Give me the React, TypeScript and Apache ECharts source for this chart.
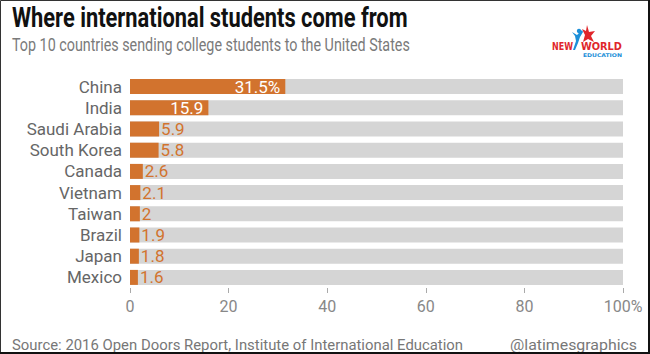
import React, { useEffect, useRef } from "react";
import * as echarts from "echarts";

const countries = ["China", "India", "Saudi Arabia", "South Korea", "Canada", "Vietnam", "Taiwan", "Brazil", "Japan", "Mexico"];
const shares = [31.5, 15.9, 5.9, 5.8, 2.6, 2.1, 2, 1.9, 1.8, 1.6];
const insideLabelCount = 2;
const tickValues = [0, 20, 40, 60, 80, 100];

const titleText = "Where international students come from";
const subtitleText = "Top 10 countries sending college students to the United States";
const sourceText = "Source: 2016 Open Doors Report, Institute of International Education";
const creditText = "@latimesgraphics";

const ORANGE = "#d2732e";
const BODY = "Roboto, 'Liberation Sans', sans-serif";

function measure(text: string, font: string): number {
  const c = document.createElement("canvas");
  const ctx = c.getContext("2d")!;
  ctx.font = font;
  return ctx.measureText(text).width || 1;
}

function fitted(text: string, font: string, x: number, y: number, width: number, fill: string, align = "left") {
  const s = width / measure(text, font);
  return {
    type: "text",
    x,
    y,
    scaleX: s,
    style: { text, font, fill, align, verticalAlign: "middle" },
  };
}

export default function App() {
  const ref = useRef<HTMLDivElement>(null);
  useEffect(() => {
    document.body.style.margin = "0";
    const chart = echarts.init(ref.current!, null, { renderer: "svg" });
    const data = shares.map((v, i) => ({
      value: v,
      label:
        i < insideLabelCount
          ? { position: "insideRight", color: "#ffffff", distance: 5 }
          : { position: "right", color: ORANGE, distance: 2 },
    }));
    const titleFont = `bold 27px Roboto, 'Liberation Sans', sans-serif`;
    const subFont = `18px Roboto, 'Liberation Sans', sans-serif`;
    const footFont = `15px Roboto, 'Liberation Sans', sans-serif`;
    const logoFont = `bold 11px 'DejaVu Sans Condensed', Roboto, sans-serif`;
    const eduFont = `bold 5px 'DejaVu Sans Condensed', Roboto, sans-serif`;
    chart.setOption({
      animation: false,
      backgroundColor: "#ffffff",
      grid: { left: 130, right: 27, top: 76, bottom: 66, containLabel: false },
      xAxis: {
        type: "value",
        min: 0,
        max: 100,
        interval: 20,
        axisLine: { show: false },
        axisTick: { show: true, length: 5, lineStyle: { color: "#aaaaaa", width: 1 } },
        splitLine: { show: false },
        axisLabel: {
          color: "#888888",
          fontSize: 16,
          fontFamily: BODY,
          margin: 10,
          formatter: (v: number) => (v === tickValues[tickValues.length - 1] ? v + "%" : String(v)),
        },
      },
      yAxis: {
        type: "category",
        data: countries,
        inverse: true,
        axisLine: { show: false },
        axisTick: { show: false },
        axisLabel: { color: "#666666", fontSize: 17, fontFamily: BODY, margin: 8, interval: 0 },
      },
      series: [
        {
          type: "bar",
          data,
          barWidth: 15,
          itemStyle: { color: ORANGE },
          showBackground: true,
          backgroundStyle: { color: "#d5d5d5" },
          label: {
            show: true,
            fontSize: 17,
            fontFamily: BODY,
            formatter: (p: any) => (p.dataIndex === 0 ? p.value + "%" : String(p.value)),
          },
        },
      ],
      graphic: [
        fitted(titleText, titleFont, 12, 18, 396, "#111111"),
        fitted(subtitleText, subFont, 12, 45, 398, "#7a7a7a"),
        fitted(sourceText, footFont, 12, 345, 451, "#777777"),
        fitted(creditText, footFont, 637, 345, 127, "#777777", "right"),
        // logo
        {
          type: "polygon",
          shape: { points: [[587, 25], [589, 32], [595, 31], [591, 36], [594, 42], [588, 39], [583, 42], [585, 35], [582, 29], [586, 31]] },
          style: { fill: "#e0262b" },
        },
        { type: "circle", shape: { cx: 579, cy: 31, r: 2.2 }, style: { fill: "#1c8fd8" } },
        {
          type: "polygon",
          shape: { points: [[572, 32], [577, 35], [582, 30], [583, 32], [580, 37], [578, 43], [575, 50], [573, 50], [576, 41], [575, 36]] },
          style: { fill: "#1c8fd8" },
        },
        fitted("NEW", logoFont, 552, 46, 21, "#e0262b"),
        fitted("WORLD", logoFont, 581, 46, 41, "#e0262b"),
        fitted("EDUCATION", eduFont, 583, 55, 39, "#1c8fd8"),
        {
          type: "rect",
          shape: { x: 0.5, y: 0.5, width: 648, height: 352 },
          style: { fill: "none", stroke: "#333333", lineWidth: 1 },
          silent: true,
        },
        {
          type: "polyline",
          shape: { points: [[649, 0], [649, 353], [0, 353]] },
          style: { stroke: "#111111", lineWidth: 2, fill: "none" },
          silent: true,
        },
      ],
    });
    return () => chart.dispose();
  }, []);
  return <div ref={ref} style={{ width: 650, height: 354, position: "absolute", left: 0, top: 0 }} />;
}
